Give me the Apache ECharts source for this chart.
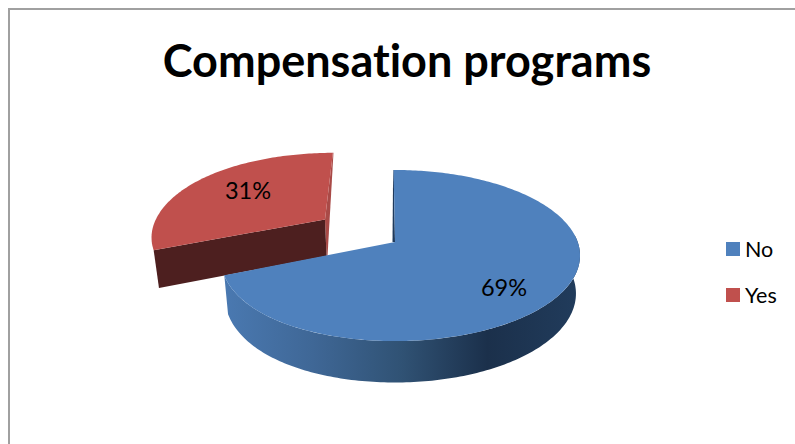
<!DOCTYPE html>
<html>
<head>
<meta charset="utf-8">
<title>Compensation programs</title>
<style>
html,body{margin:0;padding:0;background:#fff}
#chart{width:795px;height:444px}
#chart text{font-variant-ligatures:none !important}
</style>
<script src="https://cdn.jsdelivr.net/npm/echarts@6/dist/echarts.min.js"></script>
</head>
<body>
<div id="chart"></div>
<script>
// Slice data
var categories = ['No', 'Yes'];
var values = [69, 31];
var chartTitle = 'Compensation programs';

var total = values.reduce(function (a, b) { return a + b; }, 0);

// Perspective disc: centre, radii and foreshortening of the far edge
var X0 = 395, Y0 = 242, RX = 182.7, RY = 83.4, K = 0.158;
var START_DEG = -0.5;
var PULL_OUT = 0.48;      // how far the Yes slice is pulled from the centre
var PULL_LIFT = -1.2;     // extra screen lift of the pulled slice
var LEFT_NO = 0.94;       // the left half of each slice's disc is slightly narrower
var LEFT_YES = 0.965;

function rad(d) { return d * Math.PI / 180; }

// Screen point for an offset (ox, oy) on the disc plane plus a rim angle t
function rimPoint(ox, oy, t, left) {
  var s = Math.sin(t), c = Math.cos(t);
  var narrow = s < 0 ? 1 - (1 - left) * s * s : 1;
  var v = oy + c, w = 1 + K * v;
  return [X0 + RX * (ox + s * narrow) / w, Y0 - RY * v / w];
}
// Lower face of the disc, for the same point on the upper face
function dropped(p) {
  return [X0 + 0.978 * (p[0] - X0), p[1] + 37.5 + 0.04 * (p[1] - Y0)];
}

function sliceAngles(index) {
  var before = 0;
  for (var i = 0; i < index; i++) before += values[i];
  var a0 = START_DEG + before / total * 360;
  return [a0, a0 + values[index] / total * 360];
}
function rim(a0, a1, ox, oy, left) {
  var pts = [], n = Math.ceil(Math.abs(a1 - a0));
  for (var i = 0; i <= n; i++) {
    pts.push(rimPoint(ox, oy, rad(a0 + (a1 - a0) * i / n), left));
  }
  return pts;
}
function poly(points, fill) {
  return { type: 'polygon', shape: { points: points }, style: { fill: fill }, silent: true };
}
function label(text, x, y) {
  return {
    type: 'text', x: x, y: y, silent: true,
    style: { text: text, fill: '#000', font: '23.5px Lato, Carlito, sans-serif', align: 'center', verticalAlign: 'middle' }
  };
}

function drawNo(params, api) {
  var ang = sliceAngles(0);
  var apex = [X0, Y0];
  var top = rim(ang[0], ang[1], 0, 0, LEFT_NO);
  var wallTop = rim(Math.max(ang[0], 85), ang[1], 0, 0, LEFT_NO);
  var wallPts = wallTop.concat(wallTop.map(dropped).reverse());
  var sideGrad = new echarts.graphic.LinearGradient(224, 0, 580, 0, [
    { offset: 0, color: '#4a79b1' },
    { offset: 0.25, color: '#3f6796' },
    { offset: 0.5, color: '#305274' },
    { offset: 0.74, color: '#1b304b' },
    { offset: 1, color: '#213c5c' }
  ], true);
  var first = top[0];
  return {
    type: 'group',
    children: [
      poly(wallPts, sideGrad),
      poly([first, apex, [apex[0] - 2.5, apex[1]], [first[0] - 0.5, first[1]]], '#1f3a5c'),
      poly([apex].concat(top), '#4f81bd'),
      label(Math.round(values[0] / total * 100) + '%', 504, 287)
    ]
  };
}

function drawYes(params, api) {
  var ang = sliceAngles(1);
  var mid = rad((ang[0] + ang[1]) / 2);
  var ox = PULL_OUT * Math.sin(mid), oy = PULL_OUT * Math.cos(mid);
  var w = 1 + K * oy;
  var lift = function (p) { return [p[0], p[1] + PULL_LIFT]; };
  var apex = lift([X0 + RX * ox / w, Y0 - RY * oy / w]);
  var top = rim(ang[0], ang[1], ox, oy, LEFT_YES).map(lift);
  var first = top[0], last = top[top.length - 1];
  var apexLow = dropped(apex);
  return {
    type: 'group',
    children: [
      poly([last, apex, apexLow, [apexLow[0] + 1, apexLow[1]], [last[0] + 0.6, last[1]]], '#a94a47'),
      poly([first, apex, apexLow, dropped(first)], '#4d1f1f'),
      poly([apex].concat(top), '#c0504d'),
      label(Math.round(values[1] / total * 100) + '%', 248, 190)
    ]
  };
}

var chart = echarts.init(document.getElementById('chart'), null, { renderer: 'svg' });
chart.setOption({
  animation: false,
  backgroundColor: '#fff',
  title: {
    text: chartTitle,
    left: 402, top: 32, textAlign: 'center',
    textStyle: { color: '#000', fontFamily: 'Lato, Carlito, sans-serif', fontWeight: 'bold', fontSize: 45 }
  },
  legend: {
    orient: 'vertical', left: 726, top: 238, padding: 0,
    icon: 'rect', itemWidth: 14, itemHeight: 14, itemGap: 24,
    data: categories,
    textStyle: { color: '#000', fontFamily: 'Lato, Carlito, sans-serif', fontSize: 21.5 },
    selectedMode: false
  },
  graphic: [{
    type: 'polyline', silent: true,
    shape: { points: [[9, 444], [9, 9], [795, 9]] },
    style: { stroke: '#a0a0a0', lineWidth: 2, fill: 'none' }
  }],
  series: [
    { type: 'custom', name: categories[0], coordinateSystem: 'none', z: 3, itemStyle: { color: '#4f81bd' },
      renderItem: drawNo, data: [values[0]] },
    { type: 'custom', name: categories[1], coordinateSystem: 'none', z: 2, itemStyle: { color: '#c0504d' },
      renderItem: drawYes, data: [values[1]] }
  ]
});
</script>
</body>
</html>
